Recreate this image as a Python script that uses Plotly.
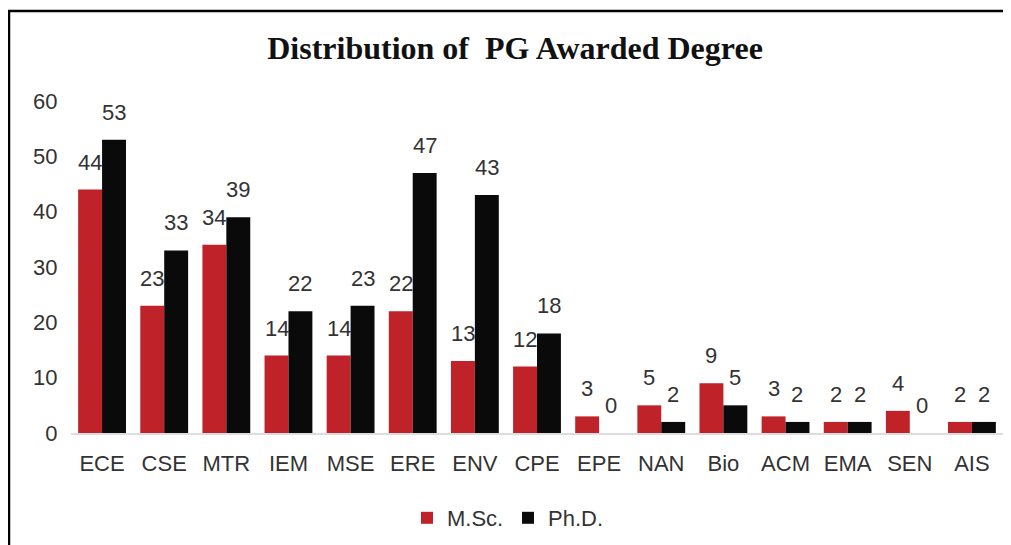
import plotly.graph_objects as go

categories = ["ECE", "CSE", "MTR", "IEM", "MSE", "ERE", "ENV", "CPE", "EPE", "NAN", "Bio", "ACM", "EMA", "SEN", "AIS"]
msc = [44, 23, 34, 14, 14, 22, 13, 12, 3, 5, 9, 3, 2, 4, 2]
phd = [53, 33, 39, 22, 23, 47, 43, 18, 0, 2, 5, 2, 2, 0, 2]
y_ticks = [0, 10, 20, 30, 40, 50, 60]

font_sans = "Helvetica, Arial, Liberation Sans, sans-serif"
lab_font = dict(family=font_sans, size=22, color="#333333")

W, H = 1003, 537
ML, MR, MT, MB = 63, 8, 93, 112
plot_w = W - ML - MR
plot_h = H - MT - MB
bargap = 0.23
bar_px = plot_w / len(categories) * (1 - bargap) / 2

fig = go.Figure()
fig.add_trace(go.Bar(x=categories, y=msc, name="M.Sc.", marker_color="#c0222a", marker_line_width=0))
fig.add_trace(go.Bar(x=categories, y=phd, name="Ph.D.", marker_color="#0a0a0a", marker_line_width=0))

annotations = []
for series, shift in ((msc, -bar_px / 2), (phd, bar_px / 2)):
    for c, v in zip(categories, series):
        annotations.append(dict(x=c, y=v, xref="x", yref="y", text=str(v), showarrow=False,
                                xshift=shift, yshift=13, yanchor="bottom", xanchor="center",
                                font=lab_font))

fig.update_layout(
    width=W, height=H, autosize=False,
    margin=dict(l=ML, r=MR, t=MT, b=MB, autoexpand=False),
    paper_bgcolor="white", plot_bgcolor="white",
    barmode="group", bargap=bargap, bargroupgap=0,
    title=dict(text="<b>Distribution of  PG Awarded Degree</b>",
               font=dict(family="Times New Roman, Liberation Serif, serif", size=32, color="#111111"),
               x=(515 - 8) / W, xref="container", xanchor="center",
               y=1 - (48 - 8) / H, yref="container", yanchor="middle"),
    showlegend=True,
    legend=dict(orientation="h", x=(508 - 71) / plot_w, xanchor="center", y=(425 - 510) / plot_h,
                yanchor="middle", font=dict(family=font_sans, size=22, color="#333333"),
                traceorder="normal", entrywidth=56, itemwidth=30),
    xaxis=dict(showline=True, linecolor="#dddddd", linewidth=2, ticks="outside", ticklen=10,
               tickcolor="rgba(0,0,0,0)", showgrid=False, automargin=False, tickangle=0,
               tickfont=dict(family=font_sans, size=22, color="#333333")),
    yaxis=dict(range=[0, 60], tickvals=y_ticks, showgrid=False, zeroline=False, showline=False,
               automargin=False, ticks="outside", ticklen=8, tickcolor="rgba(0,0,0,0)",
               tickfont=dict(family=font_sans, size=22, color="#333333")),
    annotations=annotations,
)

fig.add_shape(type="rect", xref="paper", yref="paper",
              x0=(9 - 71) / plot_w, x1=1.2, y0=-0.6, y1=(433 - 11) / plot_h,
              line=dict(color="black", width=2.5), fillcolor="rgba(0,0,0,0)", layer="above")

fig.write_html("out.html")
